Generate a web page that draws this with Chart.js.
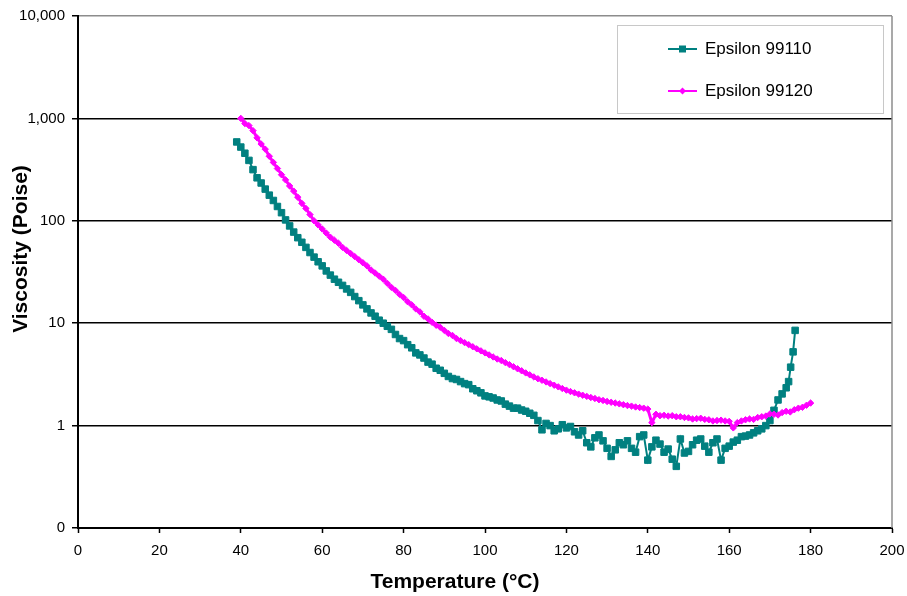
<!DOCTYPE html>
<html>
<head>
<meta charset="utf-8">
<title>Viscosity vs Temperature</title>
<script src="https://cdn.jsdelivr.net/npm/chart.js@4.4.1/dist/chart.umd.min.js"></script>
<style>
  body { margin: 0; background: #fff; }
  #wrap { width: 907px; height: 596px; }
</style>
</head>
<body>
<div id="wrap"><canvas id="chart" width="907" height="596"></canvas></div>
<script>
// Epsilon 99110 (teal squares)
var temps99110 = [39, 40, 41, 42, 43, 44, 45, 46, 47, 48, 49,
    50, 51, 52, 53, 54, 55, 56, 57, 58, 59,
    60, 61, 62, 63, 64, 65, 66, 67, 68, 69,
    70, 71, 72, 73, 74, 75, 76, 77, 78, 79,
    80, 81, 82, 83, 84, 85, 86, 87, 88, 89,
    90, 91, 92, 93, 94, 95, 96, 97, 98, 99,
    100, 101, 102, 103, 104, 105, 106, 107, 108, 109,
    110, 111, 112, 113, 114, 115, 116, 117, 118, 119,
    120, 121, 122, 123, 124, 125, 126, 127, 128, 129,
    130, 131, 132, 133, 134, 135, 136, 137, 138, 139,
    140, 141, 142, 143, 144, 145, 146, 147, 148, 149,
    150, 151, 152, 153, 154, 155, 156, 157, 158, 159,
    160, 161, 162, 163, 164, 165, 166, 167, 168, 169,
    170, 171, 172, 173, 174, 174.6, 175.1, 175.7, 176.2];
var visc99110 = [589, 525, 457, 389, 316, 263, 234, 204, 178, 158, 138,
    120, 102, 89.1, 77.6, 68.4, 61.7, 55.0, 49.0, 44.2, 39.8,
    36.3, 32.4, 29.5, 26.9, 25.1, 23.4, 21.6, 20.0, 18.2, 16.6,
    15.1, 13.8, 12.6, 11.7, 10.7, 10.0, 9.33, 8.71, 7.76, 7.08,
    6.76, 6.17, 5.75, 5.13, 4.90, 4.57, 4.17, 3.98, 3.63, 3.47,
    3.24, 3.02, 2.88, 2.82, 2.69, 2.57, 2.51, 2.29, 2.19, 2.09,
    1.95, 1.91, 1.86, 1.78, 1.74, 1.62, 1.55, 1.48, 1.48, 1.42,
    1.38, 1.32, 1.26, 1.12, 0.91, 1.05, 1.00, 0.89, 0.93, 1.02,
    0.95, 0.98, 0.87, 0.81, 0.89, 0.68, 0.62, 0.76, 0.81, 0.71,
    0.60, 0.50, 0.58, 0.68, 0.65, 0.71, 0.60, 0.55, 0.78, 0.81,
    0.46, 0.62, 0.72, 0.66, 0.55, 0.59, 0.47, 0.40, 0.74, 0.54,
    0.56, 0.65, 0.72, 0.74, 0.63, 0.55, 0.68, 0.74, 0.46, 0.60,
    0.63, 0.69, 0.72, 0.78, 0.79, 0.81, 0.85, 0.89, 0.93, 1.00,
    1.12, 1.41, 1.78, 2.04, 2.34, 2.69, 3.72, 5.25, 8.51];

// Epsilon 99120 (magenta diamonds)
var temps99120 = [40, 41, 42, 43, 44, 45, 46, 47, 48, 49,
    50, 51, 52, 53, 54, 55, 56, 57, 58, 59,
    60, 61, 62, 63, 64, 65, 66, 67, 68, 69,
    70, 71, 72, 73, 74, 75, 76, 77, 78, 79,
    80, 81, 82, 83, 84, 85, 86, 87, 88, 89,
    90, 91, 92, 93, 94, 95, 96, 97, 98, 99,
    100, 101, 102, 103, 104, 105, 106, 107, 108, 109,
    110, 111, 112, 113, 114, 115, 116, 117, 118, 119,
    120, 121, 122, 123, 124, 125, 126, 127, 128, 129,
    130, 131, 132, 133, 134, 135, 136, 137, 138, 139,
    140, 141, 142, 143, 144, 145, 146, 147, 148, 149,
    150, 151, 152, 153, 154, 155, 156, 157, 158, 159,
    160, 161, 162, 163, 164, 165, 166, 167, 168, 169,
    170, 171, 172, 173, 174, 175, 176, 177, 178, 179, 180];
var visc99120 = [1000, 891, 851, 759, 646, 562, 501, 427, 372, 324,
    282, 251, 219, 195, 170, 148, 132, 115, 100, 91.2,
    83.2, 75.9, 69.2, 64.6, 60.3, 55.0, 51.3, 47.9, 44.7, 41.7,
    38.9, 36.3, 33.1, 30.9, 28.8, 26.9, 24.5, 22.4, 20.9, 19.1,
    17.8, 16.2, 15.1, 13.8, 12.9, 11.7, 11.0, 10.2, 9.55, 9.12,
    8.51, 7.94, 7.59, 7.08, 6.76, 6.46, 6.17, 5.89, 5.62, 5.37,
    5.13, 4.90, 4.68, 4.47, 4.32, 4.12, 3.94, 3.76, 3.59, 3.43,
    3.27, 3.13, 2.99, 2.87, 2.77, 2.67, 2.57, 2.48, 2.39, 2.30,
    2.22, 2.15, 2.09, 2.03, 1.98, 1.93, 1.88, 1.84, 1.79, 1.76,
    1.72, 1.69, 1.66, 1.63, 1.60, 1.57, 1.55, 1.52, 1.50, 1.48,
    1.45, 1.07, 1.29, 1.25, 1.26, 1.24, 1.25, 1.22, 1.22, 1.20,
    1.19, 1.16, 1.17, 1.18, 1.15, 1.14, 1.11, 1.12, 1.13, 1.11,
    1.10, 0.95, 1.07, 1.11, 1.14, 1.16, 1.15, 1.20, 1.22, 1.24,
    1.30, 1.29, 1.27, 1.34, 1.38, 1.36, 1.43, 1.48, 1.51, 1.58, 1.66];

var seriesNames = ['Epsilon 99110', 'Epsilon 99120'];
var seriesColors = ['#008080', '#ff00ff'];
var yTicks = [0.1, 1, 10, 100, 1000, 10000];
var yTickLabels = ['0', '1', '10', '100', '1,000', '10,000'];
var xTitle = 'Temperature (°C)';
var yTitle = 'Viscosity (Poise)';

function toPoints(xs, ys) {
    return xs.map(function(x, i) { return {x: x, y: ys[i]}; });
}

var FONT = '"Liberation Sans", Arial, sans-serif';
Chart.defaults.font.family = FONT;
Chart.defaults.color = '#000';

// right frame edge, axis titles and the boxed legend, Excel style
var frameAndLegend = {
    id: 'frameAndLegend',
    afterDatasetsDraw: function(chart) {
        var ctx = chart.ctx, area = chart.chartArea;
        ctx.save();
        ctx.strokeStyle = '#8c8c8c';
        ctx.lineWidth = 1.5;
        ctx.beginPath();
        ctx.moveTo(area.right, area.top);
        ctx.lineTo(area.right, area.bottom);
        ctx.stroke();

        // axis titles (the original sits them left of the plot centre)
        ctx.fillStyle = '#000';
        ctx.font = 'bold 21px ' + FONT;
        ctx.textAlign = 'center';
        ctx.textBaseline = 'middle';
        ctx.fillText(xTitle, area.left + 377, area.bottom + 54);
        ctx.save();
        ctx.translate(21, area.top + 233);
        ctx.rotate(-Math.PI / 2);
        ctx.fillText(yTitle, 0, 0);
        ctx.restore();

        // legend box
        var left = area.right - 275, top = area.top + 9, w = 266, h = 88;
        ctx.fillStyle = '#fff';
        ctx.fillRect(left, top, w, h);
        ctx.strokeStyle = '#c8c8c8';
        ctx.lineWidth = 1;
        ctx.strokeRect(left + 0.5, top + 0.5, w, h);

        ctx.font = '17px ' + FONT;
        ctx.textAlign = 'left';
        chart.data.datasets.forEach(function(ds, i) {
            var y = top + 24 + i * 42;
            var x0 = left + 51;
            ctx.strokeStyle = ds.borderColor;
            ctx.fillStyle = ds.borderColor;
            ctx.lineWidth = 2;
            ctx.beginPath();
            ctx.moveTo(x0, y);
            ctx.lineTo(x0 + 29, y);
            ctx.stroke();
            var cx = x0 + 14.5;
            if (ds.pointStyle === 'rect') {
                ctx.fillRect(cx - 3.5, y - 3.5, 7, 7);
            } else {
                ctx.beginPath();
                ctx.moveTo(cx, y - 3.5);
                ctx.lineTo(cx + 3.5, y);
                ctx.lineTo(cx, y + 3.5);
                ctx.lineTo(cx - 3.5, y);
                ctx.closePath();
                ctx.fill();
            }
            ctx.fillStyle = '#000';
            ctx.fillText(ds.label, x0 + 37, y);
        });
        ctx.restore();
    }
};

new Chart(document.getElementById('chart'), {
    type: 'line',
    data: {
        datasets: [{
            label: seriesNames[0],
            data: toPoints(temps99110, visc99110),
            borderColor: seriesColors[0],
            backgroundColor: seriesColors[0],
            borderWidth: 2,
            pointStyle: 'rect',
            pointRadius: 4.6,
            pointBorderWidth: 1,
            order: 1
        }, {
            label: seriesNames[1],
            data: toPoints(temps99120, visc99120),
            borderColor: seriesColors[1],
            backgroundColor: seriesColors[1],
            borderWidth: 3,
            pointStyle: 'rectRot',
            pointRadius: 3.2,
            pointBorderWidth: 1,
            order: 0
        }]
    },
    options: {
        responsive: false,
        animation: false,
        events: [],
        layout: { padding: { left: 0, top: 15, right: 15, bottom: 0 } },
        plugins: {
            legend: { display: false },
            tooltip: { enabled: false }
        },
        scales: {
            x: {
                type: 'linear',
                min: 0,
                max: 200,
                ticks: { stepSize: 20, font: { size: 15 }, padding: 9, maxRotation: 0 },
                grid: { drawOnChartArea: false, tickLength: 5, tickColor: '#000', tickWidth: 1.5 },
                border: { color: '#000', width: 2 },
                afterFit: function(scale) {
                    scale.height = 68;
                    scale.paddingRight = 0;
                }
            },
            y: {
                type: 'logarithmic',
                min: 0.1,
                max: 10000,
                afterBuildTicks: function(scale) {
                    scale.ticks = yTicks.map(function(v) { return {value: v}; });
                },
                ticks: {
                    font: { size: 15 },
                    padding: 7,
                    autoSkip: false,
                    callback: function(value) {
                        var i = yTicks.indexOf(value);
                        return i >= 0 ? yTickLabels[i] : '';
                    }
                },
                grid: {
                    color: function(c) { return c.tick && c.tick.value === 10000 ? '#8c8c8c' : '#000'; },
                    lineWidth: 1.5,
                    tickLength: 6,
                    tickColor: '#000'
                },
                border: { color: '#000', width: 2 },
                afterFit: function(scale) { scale.width = 78; }
            }
        }
    },
    plugins: [frameAndLegend]
});
</script>
</body>
</html>
